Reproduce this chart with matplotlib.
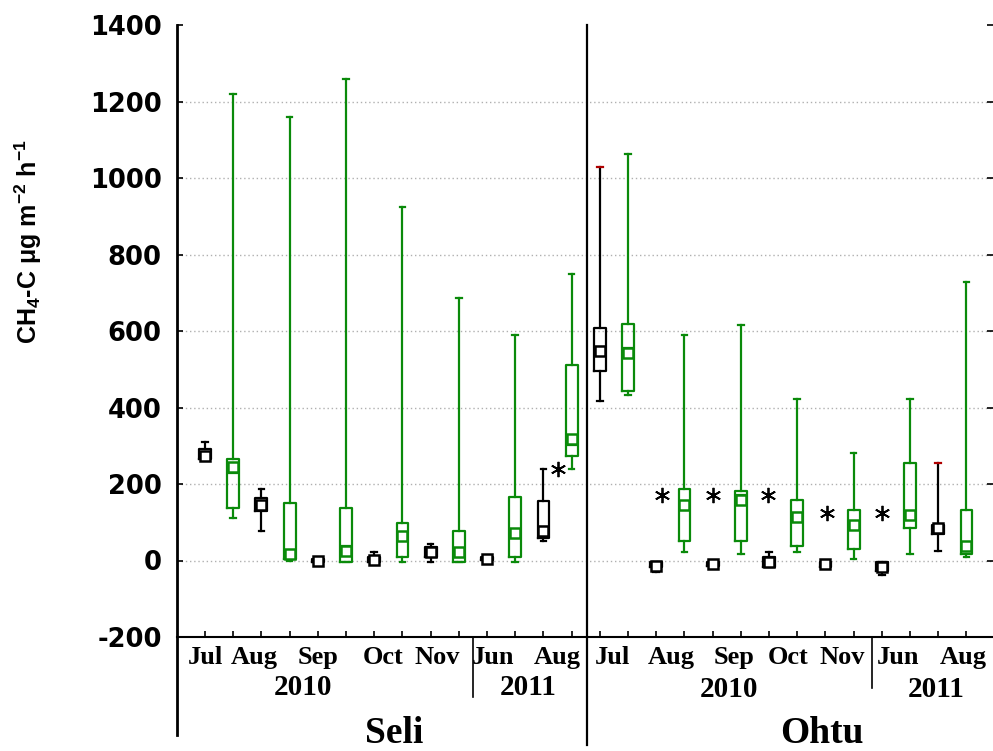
import numpy as np
import matplotlib.pyplot as plt

plt.rcParams['axes.unicode_minus'] = False
plt.rcParams['mathtext.fontset'] = 'custom'
plt.rcParams['mathtext.rm'] = 'Liberation Sans:bold'
plt.rcParams['mathtext.it'] = 'Liberation Sans:bold'
plt.rcParams['mathtext.bf'] = 'Liberation Sans:bold'
plt.rcParams['mathtext.default'] = 'rm'

months = ['Jul', 'Aug', 'Sep', 'Oct', 'Nov', 'Jun', 'Aug']
years = ['2010', '2011', '2010', '2011']
sites = ['Seli', 'Ohtu']

# black boxes: Seli Jul..Aug(2011), then Ohtu Jul..Aug(2011)
black_lo = [262, 76, -5, -5, -3, 0, 52, 418, -30, -15, -18, -18, -38, 26]
black_q1 = [265, 130, -3, -3, 8, 2, 60, 496, -18, -14, -16, -18, -28, 70]
black_med = [280, 155, 0, 3, 25, 5, 88, 559, -10, -10, -5, -10, -15, 86]
black_q3 = [292, 164, 3, 8, 34, 8, 155, 608, -3, -4, 8, -3, -3, 94]
black_hi = [310, 188, 5, 21, 42, 10, 240, 1030, -3, -3, 21, -3, -3, 256]
black_mean = [274, 146, 0, 2, 21, 5, 76, 548, -14, -10, -5, -10, -16, 84]

# green boxes, same order
green_lo = [110, 0, -5, -5, -3, -3, 240, 433, 21, 16, 21, 5, 16, 10]
green_q1 = [136, 3, -5, 10, -3, 10, 272, 444, 50, 50, 37, 29, 84, 18]
green_med = [228, 20, 37, 70, 8, 60, 303, 556, 133, 170, 125, 86, 110, 24]
green_q3 = [266, 151, 136, 99, 78, 167, 510, 619, 188, 183, 157, 131, 256, 131]
green_hi = [1220, 1160, 1260, 925, 685, 590, 748, 1063, 590, 615, 423, 282, 423, 728]
green_mean = [245, 18, 26, 63, 22, 73, 318, 543, 146, 157, 115, 94, 120, 37]

# extreme values (asterisks)
star_x = [12.52, 16.2, 18.0, 19.95, 22.05, 24.0]
star_y = [238, 172, 172, 172, 125, 125]

red_caps = [7, 13]  # black boxes with red upper cap


def make_stats(lo, q1, med, q3, hi, mean):
    return [dict(whislo=a, q1=b, med=c, q3=d, whishi=e, mean=f, fliers=[])
            for a, b, c, d, e, f in zip(lo, q1, med, q3, hi, mean)]


fig = plt.figure(figsize=(9.93, 7.51), dpi=100)
ax = fig.add_axes([177 / 993, 1 - 637 / 751, (993 - 177) / 993, 612 / 751])

green = '#0a8a0a'
n = len(black_lo)
black_pos = np.arange(n) * 2
green_pos = np.arange(n) * 2 + 1

for stats, pos, col in [(make_stats(black_lo, black_q1, black_med, black_q3, black_hi, black_mean), black_pos, 'black'),
                        (make_stats(green_lo, green_q1, green_med, green_q3, green_hi, green_mean), green_pos, green)]:
    res = ax.bxp(stats, positions=pos, widths=0.42, showmeans=True,
                 manage_ticks=False, capwidths=0.2,
                 boxprops=dict(color=col, lw=1.6),
                 medianprops=dict(color=col, lw=1.6),
                 whiskerprops=dict(color=col, lw=1.6),
                 capprops=dict(color=col, lw=1.6),
                 meanprops=dict(marker='s', markerfacecolor='white', markeredgecolor=col,
                                markersize=6.5, markeredgewidth=1.8))
    if col == 'black':
        for i in red_caps:
            res['caps'][2 * i + 1].set_color('#b00000')

ax.plot(star_x, star_y, ls='none', marker=(6, 2, 0), ms=11, mew=1.3, color='black')

# grid
for v in [0, 200, 400, 600, 800, 1000, 1200]:
    ax.axhline(v, color='#b0b0b0', lw=1, ls=(0, (1, 2)), zorder=0)

ax.set_xlim(-0.993, 27.94)
ax.set_ylim(-200, 1400)
ax.set_yticks(np.arange(-200, 1401, 200))
ax.set_xticks(np.arange(2 * n))
ax.set_xticklabels([])
ax.tick_params(axis='x', direction='in', length=4, width=1.2)
ax.tick_params(axis='y', direction='in', length=4, width=1.2, right=True, pad=11)
for lab in ax.get_yticklabels():
    lab.set_fontweight('heavy')
    lab.set_fontsize(18.5)
for s in ['top', 'right', 'left']:
    ax.spines[s].set_visible(False)
ax.spines['bottom'].set_linewidth(1.5)

xt = ax.get_xaxis_transform()
line_kw = dict(transform=xt, clip_on=False, color='black')
ax.plot([-0.993, -0.993], [1, -0.16], lw=2, **line_kw)
ax.plot([13.55, 13.55], [1, -0.176], lw=1.6, **line_kw)
ax.plot([9.5, 9.5], [0, -0.098], lw=1.2, **line_kw)
ax.plot([23.65, 23.65], [0, -0.083], lw=1.2, **line_kw)

serif = 'Liberation Serif'
month_x = [0, 1.74, 4.01, 6.31, 8.23, 10.22, 12.49,
           14.44, 16.53, 18.77, 20.68, 22.6, 24.58, 26.89]
for x, m in zip(month_x, months * 2):
    ax.text(x, -0.034, m, transform=xt, ha='center', va='center',
            fontsize=19, fontweight='bold', family=serif)
year_x = [3.48, 11.46, 18.59, 25.93]
year_y = [-0.083, -0.083, -0.085, -0.085]
for x, y, t in zip(year_x, year_y, years):
    ax.text(x, y, t, transform=xt, ha='center', va='center',
            fontsize=21, fontweight='bold', family=serif)
for x, t in zip([6.7, 21.89], sites):
    ax.text(x, -0.157, t, transform=xt, ha='center', va='center',
            fontsize=27, fontweight='bold', family=serif)

fig.text(0.028, 1 - 242 / 751, r'CH$_4$-C μg m$^{-2}$ h$^{-1}$', rotation=90,
         ha='center', va='center', fontsize=18, fontweight='bold',
         family='Liberation Sans')

fig.savefig('out.png', dpi=100)
